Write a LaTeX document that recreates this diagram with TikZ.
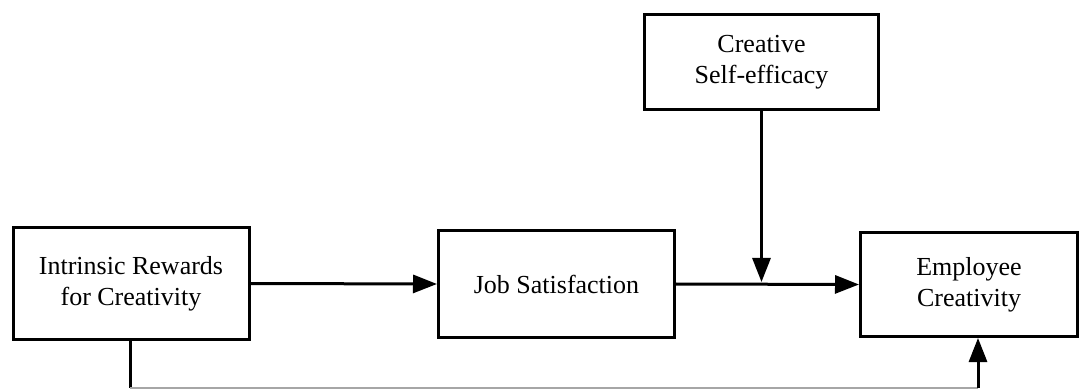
\documentclass[tikz,border=0pt]{standalone}
\usepackage{fontspec}
\setmainfont{Liberation Serif}
\usetikzlibrary{arrows.meta}
\begin{document}
\begin{tikzpicture}[x=1pt,y=-1pt,
  box/.style={draw, line width=3pt, fill=white, align=center, inner sep=0pt,
    font=\fontsize{26}{31}\selectfont},
  arr/.style={line width=3pt, -{Triangle[length=24pt,width=18pt]}},
  plain/.style={line width=3pt},
  thin/.style={line width=1.5pt, draw=black!35}]
\useasboundingbox (0,0) rectangle (1085,390);
\node[box, minimum width=236pt, minimum height=111pt] (A) at (131,283.5) {Intrinsic Rewards\\for Creativity};
\node[box, minimum width=236pt, minimum height=107pt] (B) at (556.5,284) {Job Satisfaction};
\node[box, minimum width=234pt, minimum height=95pt] (C) at (761.5,62) {Creative\\Self-efficacy};
\node[box, minimum width=217pt, minimum height=104pt] (D) at (969,284.5) {Employee\\Creativity};
\draw[arr] (A.east) -- (B.west);
\draw[arr] (B.east) -- (D.west);
\coordinate (j) at (C.south |- B.east);
\draw[arr, shorten >=2pt] (C.south) -- (j);
\coordinate (b1) at (130,388);
\coordinate (b2) at (978,388);
\draw[plain] (A.south -| b1) -- (b1);
\draw[thin] (b1) -- (b2);
\draw[arr] (b2) -- (b2 |- D.south);
\end{tikzpicture}
\end{document}
